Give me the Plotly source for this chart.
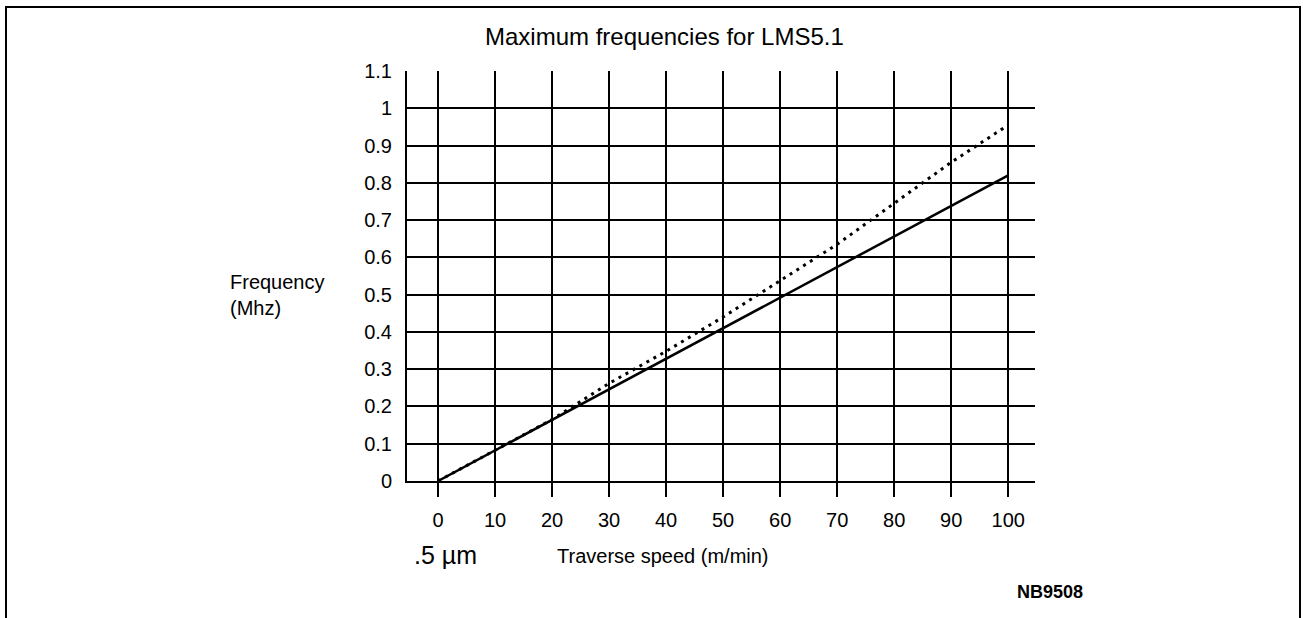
import plotly.graph_objects as go

# ---- data ----
speed = [0, 10, 20, 30, 40, 50, 60, 70, 80, 90, 100]
freq_solid = [0, 0.082, 0.164, 0.246, 0.328, 0.41, 0.492, 0.574, 0.656, 0.738, 0.82]
freq_dotted = [0, 0.082, 0.165, 0.262, 0.348, 0.44, 0.537, 0.635, 0.745, 0.855, 0.955]
x_ticks = [0, 10, 20, 30, 40, 50, 60, 70, 80, 90, 100]
y_ticks = [0, 0.1, 0.2, 0.3, 0.4, 0.5, 0.6, 0.7, 0.8, 0.9, 1.0, 1.1]
y_tick_text = ["0", "0.1", "0.2", "0.3", "0.4", "0.5", "0.6", "0.7", "0.8", "0.9", "1", "1.1"]

W, H = 1305, 618
L, R, T, B = 407, 1035, 71, 481  # plot area in px
pw, ph = R - L, B - T

def px(x):
    return (x - L) / pw

def py(y):
    return (B - y) / ph

FONT = "Liberation Sans, Arial, sans-serif"

fig = go.Figure()
fig.add_trace(go.Scatter(x=speed, y=freq_dotted, mode="lines",
                         line=dict(color="black", width=3, dash="3px,5px"),
                         showlegend=False, hoverinfo="skip"))
fig.add_trace(go.Scatter(x=speed, y=freq_solid, mode="lines",
                         line=dict(color="black", width=2.5),
                         showlegend=False, hoverinfo="skip"))

fig.update_layout(
    width=W, height=H,
    margin=dict(l=L, r=W - R, t=T, b=H - B, pad=0),
    paper_bgcolor="white", plot_bgcolor="white",
    font=dict(family=FONT, color="black", size=20),
    xaxis=dict(range=[-5.44, 104.7], tickvals=x_ticks, ticks="outside", ticklen=14,
               tickwidth=2, tickcolor="black", showgrid=True, gridcolor="black",
               gridwidth=2, showline=True, linecolor="black", linewidth=2,
               zeroline=False, tickfont=dict(size=20), ticklabelstandoff=6,
               fixedrange=True),
    yaxis=dict(range=[0, 1.1], tickvals=y_ticks, ticktext=y_tick_text, ticks="",
               showgrid=True, gridcolor="black", gridwidth=2, showline=True,
               linecolor="black", linewidth=2, zeroline=False,
               tickfont=dict(size=20), ticklabelstandoff=9, fixedrange=True),
)

# outer frame
fig.add_shape(type="rect", xref="paper", yref="paper",
              x0=px(6), x1=px(1300), y0=py(640), y1=py(7),
              line=dict(color="black", width=2), fillcolor="rgba(0,0,0,0)")

ann = [
    dict(text="Maximum frequencies for LMS5.1", x=px(664), y=py(37), xanchor="center",
         yanchor="middle", font=dict(size=24)),
    dict(text="Frequency<br>(Mhz)", x=px(228), y=py(295), xanchor="left",
         yanchor="middle", align="left", font=dict(size=20)),
    dict(text=".5 µm", x=px(412), y=py(555), xanchor="left", yanchor="middle",
         font=dict(size=25)),
    dict(text="Traverse speed (m/min)", x=px(555), y=py(556), xanchor="left",
         yanchor="middle", font=dict(size=20)),
    dict(text="<b>NB9508</b>", x=px(1015), y=py(592), xanchor="left",
         yanchor="middle", font=dict(size=18)),
]
for a in ann:
    fig.add_annotation(xref="paper", yref="paper", showarrow=False, **a)

fig.write_html("out.html", config={"displayModeBar": False},
               post_script="document.body.style.margin='0';document.body.style.padding='0';")
